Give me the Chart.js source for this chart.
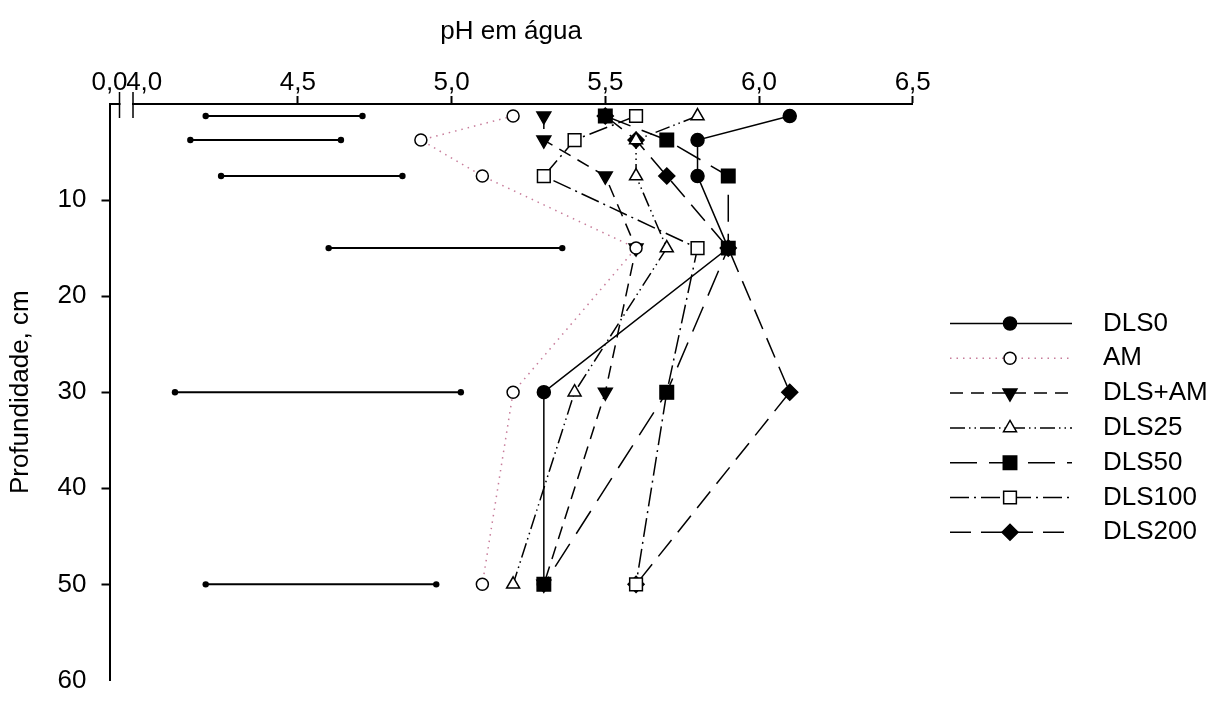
<!DOCTYPE html>
<html>
<head>
<meta charset="utf-8">
<script src="https://cdn.jsdelivr.net/npm/chart.js@4.4.1/dist/chart.umd.min.js"></script>
<style>
  html, body { margin: 0; padding: 0; background: #ffffff; }
  #wrap { width: 1226px; height: 711px; position: relative; }
</style>
</head>
<body>
<div id="wrap"><canvas id="c" width="1226" height="711"></canvas></div>
<script>
// Sampling depths (cm): midpoints of 0-2.5, 2.5-5, 5-10, 10-20, 20-40, 40-60
const depths = [1.25, 3.75, 7.5, 15, 30, 50];

// pH in water per treatment, one value per depth
const phDLS0   = [6.1, 5.8, 5.8, 5.9, 5.3, 5.3];
const phAM     = [5.2, 4.9, 5.1, 5.6, 5.2, 5.1];
const phDLSAM  = [5.3, 5.3, 5.5, 5.6, 5.5, 5.3];
const phDLS25  = [5.8, 5.6, 5.6, 5.7, 5.4, 5.2];
const phDLS50  = [5.5, 5.7, 5.9, 5.9, 5.7, 5.3];
const phDLS100 = [5.6, 5.4, 5.3, 5.8, 5.7, 5.6];
const phDLS200 = [5.5, 5.6, 5.7, 5.9, 6.1, 5.6];

// Least-significant-difference bars at each depth (ends of each bar, pH)
const lsdLow  = [4.20, 4.15, 4.25, 4.60, 4.10, 4.20];
const lsdHigh = [4.71, 4.64, 4.84, 5.36, 5.03, 4.95];

// Axis ticks
const xTickValues = [4.0, 4.5, 5.0, 5.5, 6.0, 6.5];
const yTickValues = [0, 10, 20, 30, 40, 50, 60];
const xBrokenStart = 3.887;   // axis origin (0,0) shown before the break

const FONT = '"Liberation Sans", Arial, Helvetica, sans-serif';
const FONT_SIZE = 26;

function pts(values) {
  return depths.map((d, i) => ({ x: values[i], y: d }));
}

function series(label, values, opts) {
  return Object.assign({
    label: label,
    data: pts(values),
    showInKey: true,
    borderColor: '#000000',
    borderWidth: 1.5,
    borderDash: [],
    pointBorderColor: '#000000',
    pointBorderWidth: 1.5,
    pointRotation: 0,
    tension: 0,
    fill: false,
    clip: false
  }, opts);
}

const lsdSets = depths.map((d, i) => ({
  label: 'lsd' + i,
  data: [{ x: lsdLow[i], y: d }, { x: lsdHigh[i], y: d }],
  showInKey: false,
  borderColor: '#000000',
  borderWidth: 2,
  pointStyle: 'circle',
  pointRadius: 3.2,
  pointBackgroundColor: '#000000',
  pointBorderColor: '#000000',
  pointBorderWidth: 0,
  tension: 0,
  clip: false
}));

const datasets = [
  series('DLS0', phDLS0, { pointStyle: 'circle', pointRadius: 6.5, pointBackgroundColor: '#000000' }),
  series('AM', phAM, { borderColor: 'rgba(180, 80, 120, 0.75)', borderWidth: 1.5, borderDash: [1.5, 5],
                       pointStyle: 'circle', pointRadius: 6, pointBackgroundColor: '#ffffff' }),
  series('DLS+AM', phDLSAM, { borderDash: [13, 8], pointStyle: 'triangle', pointRotation: 180,
                              pointRadius: 8, pointBackgroundColor: '#000000' }),
  series('DLS25', phDLS25, { borderDash: [15, 4, 1.5, 4, 1.5, 4], pointStyle: 'triangle',
                             pointRadius: 7.5, pointBackgroundColor: '#ffffff' }),
  series('DLS50', phDLS50, { borderDash: [27, 12], pointStyle: 'rect', pointRadius: 9.5,
                             pointBackgroundColor: '#000000' }),
  series('DLS100', phDLS100, { borderDash: [19, 5, 2, 5], pointStyle: 'rect', pointRadius: 9,
                               pointBackgroundColor: '#ffffff' }),
  series('DLS200', phDLS200, { borderDash: [21, 10], pointStyle: 'rectRot', pointRadius: 8,
                               pointBackgroundColor: '#000000' })
].concat(lsdSets);

// Key on the right: line sample, marker and name for each treatment
const seriesKey = {
  id: 'seriesKey',
  afterDraw(chart) {
    const ctx = chart.ctx;
    const x0 = 950, x1 = 1072, xm = 1010, xt = 1103, top = 323.5, step = 34.8;
    const sets = chart.data.datasets.filter(d => d.showInKey);
    sets.forEach((ds, i) => {
      const y = top + i * step;
      ctx.save();
      ctx.strokeStyle = ds.borderColor;
      ctx.lineWidth = ds.borderWidth;
      ctx.setLineDash(ds.borderDash || []);
      ctx.beginPath();
      ctx.moveTo(x0, y);
      ctx.lineTo(x1, y);
      ctx.stroke();
      ctx.setLineDash([]);
      ctx.fillStyle = ds.pointBackgroundColor;
      ctx.strokeStyle = ds.pointBorderColor;
      ctx.lineWidth = ds.pointBorderWidth;
      Chart.helpers.drawPoint(ctx, {
        pointStyle: ds.pointStyle,
        radius: ds.pointRadius,
        rotation: ds.pointRotation || 0,
        borderWidth: ds.pointBorderWidth
      }, xm, y);
      ctx.fillStyle = '#000000';
      ctx.font = FONT_SIZE + 'px ' + FONT;
      ctx.textBaseline = 'middle';
      ctx.textAlign = 'left';
      ctx.fillText(ds.label, xt, y);
      ctx.restore();
    });
  }
};

// Break marks on the pH axis between 0,0 and 4,0
const axisBreak = {
  id: 'axisBreak',
  afterDraw(chart) {
    const ctx = chart.ctx;
    const area = chart.chartArea;
    const y = area.top;
    const a = area.left + 10, b = area.left + 23.5;
    ctx.save();
    ctx.fillStyle = '#ffffff';
    ctx.fillRect(a + 1, y - 2, b - a - 2, 4);
    ctx.strokeStyle = '#000000';
    ctx.lineWidth = 1.5;
    ctx.beginPath();
    ctx.moveTo(a, y - 12); ctx.lineTo(a, y + 14);
    ctx.moveTo(b, y - 12); ctx.lineTo(b, y + 14);
    ctx.stroke();
    ctx.restore();
  }
};

new Chart(document.getElementById('c'), {
  type: 'line',
  data: { datasets: datasets },
  plugins: [seriesKey, axisBreak],
  options: {
    responsive: false,
    devicePixelRatio: 1,
    animation: false,
    events: [],
    layout: { padding: { left: 0, top: 0, right: 313.3, bottom: 14 } },
    plugins: {
      legend: { display: false },
      tooltip: { enabled: false },
      title: { display: false }
    },
    scales: {
      x: {
        type: 'linear',
        position: 'top',
        min: xBrokenStart,
        max: 6.5,
        afterFit(scale) { scale.height = 104; },
        afterBuildTicks(scale) {
          scale.ticks = [xBrokenStart].concat(xTickValues).map(v => ({ value: v }));
        },
        ticks: {
          autoSkip: false,
          maxRotation: 0,
          padding: 0.5,
          color: '#000000',
          font: { family: FONT, size: FONT_SIZE, lineHeight: 1 },
          callback(v) {
            if (Math.abs(v - xBrokenStart) < 1e-6) return '0,0';
            return Number(v).toFixed(1).replace('.', ',');
          }
        },
        grid: {
          display: true,
          drawOnChartArea: false,
          drawTicks: true,
          tickLength: 8,
          tickWidth: 2,
          tickColor(ctx) {
            const v = ctx.tick ? ctx.tick.value : null;
            return (v !== null && v > 4.2) ? '#000000' : 'rgba(0,0,0,0)';
          }
        },
        border: { display: true, color: '#000000', width: 2 },
        title: {
          display: true,
          text: 'pH em água',
          color: '#000000',
          font: { family: FONT, size: FONT_SIZE },
          padding: { top: 16, bottom: 0 }
        }
      },
      y: {
        type: 'linear',
        position: 'left',
        reverse: true,
        min: 0,
        max: 60,
        afterFit(scale) { scale.width = 109.5; },
        afterBuildTicks(scale) {
          scale.ticks = yTickValues.map(v => ({ value: v }));
        },
        ticks: {
          autoSkip: false,
          padding: 15,
          color: '#000000',
          font: { family: FONT, size: FONT_SIZE },
          callback(v) { return v === 0 ? '' : String(v); }
        },
        grid: {
          display: true,
          drawOnChartArea: false,
          drawTicks: true,
          tickLength: 8,
          tickWidth: 2,
          tickColor(ctx) {
            const v = ctx.tick ? ctx.tick.value : null;
            return (v === 0 || v === 60) ? 'rgba(0,0,0,0)' : '#000000';
          }
        },
        border: { display: true, color: '#000000', width: 2 },
        title: {
          display: true,
          text: 'Profundidade, cm',
          color: '#000000',
          font: { family: FONT, size: FONT_SIZE },
          padding: { top: 5, bottom: 0 }
        }
      }
    }
  }
});
</script>
</body>
</html>
